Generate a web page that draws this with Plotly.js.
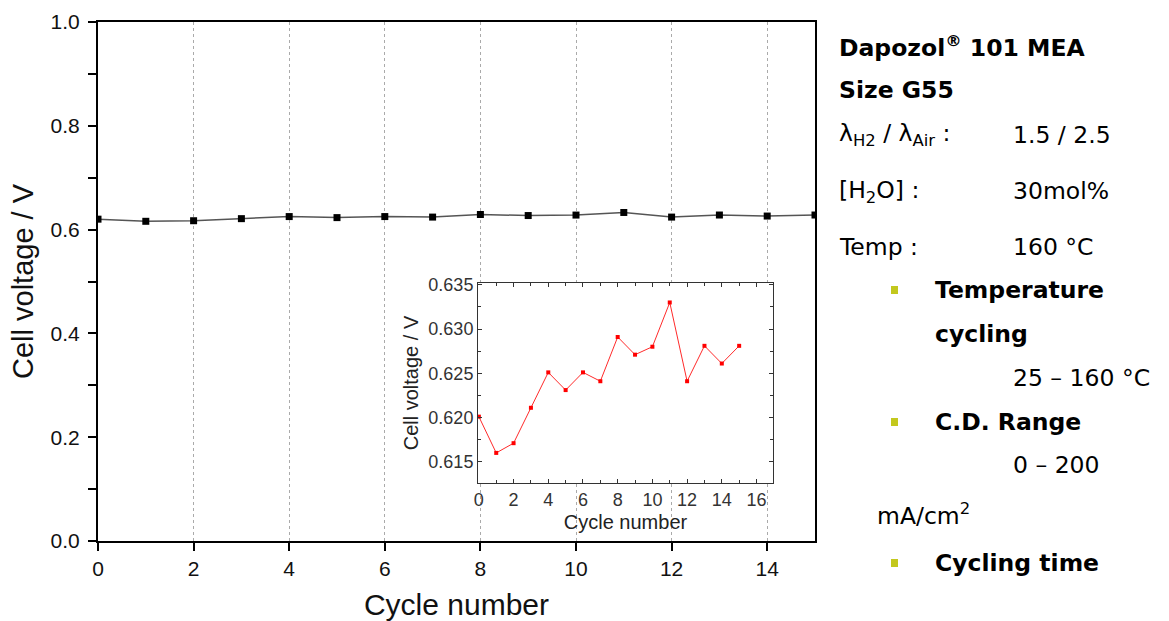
<!DOCTYPE html>
<html>
<head>
<meta charset="utf-8">
<script src="https://cdn.plot.ly/plotly-3.0.1.min.js"></script>
<style>html,body{margin:0;padding:0;background:#fff;}#chart{width:1169px;height:621px;}</style>
</head>
<body>
<div id="chart"></div>
<script>
// Data
const cycles = [0, 1, 2, 3, 4, 5, 6, 7, 8, 9, 10, 11, 12, 13, 14, 15];
const cellVoltage = [0.6201, 0.6160, 0.6171, 0.6211, 0.6251, 0.6231, 0.6251, 0.6241, 0.6291, 0.6271, 0.6280, 0.6330, 0.6241, 0.6281, 0.6261, 0.6281];
const mainXTicks = [0, 2, 4, 6, 8, 10, 12, 14];
const mainYTicks = [0.0, 0.2, 0.4, 0.6, 0.8, 1.0];
const mainYTickText = ['0.0', '0.2', '0.4', '0.6', '0.8', '1.0'];
const insetXTicks = [0, 2, 4, 6, 8, 10, 12, 14, 16];
const insetYTicks = [0.615, 0.620, 0.625, 0.630, 0.635];

const infoLines = [
  {text: '<b>Dapozol<sup>®</sup> 101 MEA</b>', x: 840, y: 46},
  {text: '<b>Size G55</b>', x: 840, y: 90},
  {text: 'λ<sub>H2</sub> / λ<sub>Air</sub> :', x: 840, y: 135},
  {text: '1.5 / 2.5', x: 1014, y: 135},
  {text: '[H<sub>2</sub>O] :', x: 840, y: 191},
  {text: '30mol%', x: 1014, y: 191},
  {text: 'Temp :', x: 840, y: 247},
  {text: '160 °C', x: 1014, y: 247},
  {text: '<b>Temperature</b>', x: 936, y: 290},
  {text: '<b>cycling</b>', x: 936, y: 334},
  {text: '25 – 160 °C', x: 1014, y: 378},
  {text: '<b>C.D. Range</b>', x: 936, y: 422},
  {text: '0 – 200', x: 1014, y: 465},
  {text: 'mA/cm<sup>2</sup>', x: 878, y: 514},
  {text: '<b>Cycling time</b>', x: 936, y: 563}
];
const bulletRows = [290, 422, 563];

const W = 1169, H = 621;
const px = v => v / W;
const py = v => 1 - v / H;

const SANS = 'Liberation Sans';
const tickFont = {family: SANS, size: 21, color: '#111'};

const traces = [
  {
    x: cycles, y: cellVoltage, type: 'scatter', mode: 'lines+markers',
    line: {color: '#555', width: 1.5},
    marker: {symbol: 'square', size: 7, color: '#000'},
    xaxis: 'x', yaxis: 'y', showlegend: false, hoverinfo: 'x+y'
  },
  {
    x: cycles, y: cellVoltage, type: 'scatter', mode: 'lines+markers',
    line: {color: '#ff2a2a', width: 1},
    marker: {symbol: 'square', size: 4, color: '#ff0000'},
    xaxis: 'x2', yaxis: 'y2', showlegend: false, hoverinfo: 'x+y'
  }
];

const annotations = infoLines.map(l => ({
  text: l.text, x: px(l.x - 3), y: py(l.y), xref: 'paper', yref: 'paper',
  xanchor: 'left', yanchor: 'middle', showarrow: false,
  font: {family: 'DejaVu Sans', size: 23.5, color: '#000'}
}));

const shapes = bulletRows.map(r => ({
  type: 'rect', xref: 'paper', yref: 'paper',
  x0: px(891), x1: px(898), y0: py(r + 4), y1: py(r - 4),
  fillcolor: '#c3c81e', line: {width: 0}
}));

const layout = {
  width: W, height: H,
  margin: {l: 0, r: 0, t: 0, b: 0},
  paper_bgcolor: '#fff', plot_bgcolor: '#fff',
  showlegend: false,
  xaxis: {
    domain: [px(98), px(815)], range: [0, 15], anchor: 'y',
    tickvals: mainXTicks, ticktext: mainXTicks.map(String),
    ticks: 'outside', ticklen: 8, tickwidth: 2, tickcolor: '#000',
    showline: true, linecolor: '#000', linewidth: 2, mirror: true,
    showgrid: true, gridcolor: '#aaa', gridwidth: 1, griddash: '3px,3px',
    zeroline: false, tickfont: tickFont,
    title: {text: 'Cycle number', font: {family: SANS, size: 30, color: '#111'}, standoff: 15}
  },
  yaxis: {
    domain: [1 - 541 / H, 1 - 22 / H], range: [0, 1], anchor: 'x',
    tickvals: mainYTicks, ticktext: mainYTickText,
    ticks: 'outside', ticklen: 8, tickwidth: 2, tickcolor: '#000',
    ticklabelstandoff: 4,
    minor: {dtick: 0.1, tick0: 0, ticks: 'outside', ticklen: 8, tickwidth: 2, tickcolor: '#000', showgrid: false},
    showline: true, linecolor: '#000', linewidth: 2, mirror: true,
    showgrid: false, zeroline: false, tickfont: tickFont,
    title: {text: 'Cell voltage / V', font: {family: SANS, size: 29, color: '#111'}, standoff: 8}
  },
  xaxis2: {
    domain: [px(478), px(773)], range: [-0.05, 16.95], anchor: 'y2',
    tickvals: insetXTicks, ticktext: insetXTicks.map(String),
    ticks: 'inside', ticklen: 4, tickwidth: 1, tickcolor: '#333',
    minor: {dtick: 1, tick0: 0, ticks: 'inside', ticklen: 3, tickcolor: '#333', showgrid: false},
    showline: true, linecolor: '#333', linewidth: 1, mirror: 'ticks',
    showgrid: false, zeroline: false,
    tickfont: {family: SANS, size: 18, color: '#333'},
    title: {text: 'Cycle number', font: {family: SANS, size: 20, color: '#222'}, standoff: 6}
  },
  yaxis2: {
    domain: [1 - 483 / H, 1 - 283 / H], range: [0.6126, 0.6352], anchor: 'x2',
    tickvals: insetYTicks, ticktext: insetYTicks.map(v => v.toFixed(3)),
    ticks: 'inside', ticklen: 4, tickwidth: 1, tickcolor: '#333',
    minor: {dtick: 0.0025, tick0: 0.6125, ticks: 'inside', ticklen: 3, tickcolor: '#333', showgrid: false},
    showline: true, linecolor: '#333', linewidth: 1, mirror: 'ticks',
    showgrid: false, zeroline: false,
    tickfont: {family: SANS, size: 18, color: '#333'},
    title: {text: 'Cell voltage / V', font: {family: SANS, size: 20, color: '#222'}, standoff: 4}
  },
  annotations: annotations,
  shapes: shapes
};

Plotly.newPlot('chart', traces, layout, {displayModeBar: false, staticPlot: true});
</script>
</body>
</html>
